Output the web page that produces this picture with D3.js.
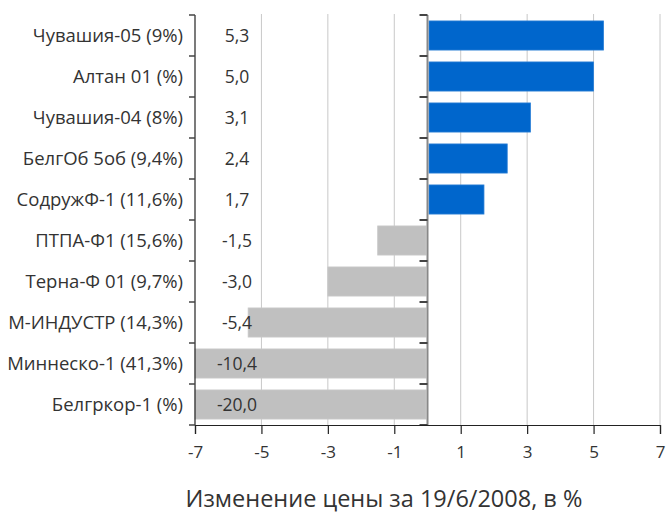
<!DOCTYPE html>
<html>
<head>
<meta charset="utf-8">
<script src="https://cdn.jsdelivr.net/npm/d3@7"></script>
<style>
  body { margin: 0; background: #fff; }
  text { font-family: "Open Sans", sans-serif; fill: #333; }
</style>
</head>
<body>
<script>
// данные
var categories = ["Чувашия-05 (9%)", "Алтан 01 (%)", "Чувашия-04 (8%)", "БелгОб 5об (9,4%)",
  "СодружФ-1 (11,6%)", "ПТПА-Ф1 (15,6%)", "Терна-Ф 01 (9,7%)", "М-ИНДУСТР (14,3%)",
  "Миннеско-1 (41,3%)", "Белгркор-1 (%)"];
var values = [5.3, 5.0, 3.1, 2.4, 1.7, -1.5, -3.0, -5.4, -10.4, -20.0];
var xTicks = [-7, -5, -3, -1, 1, 3, 5, 7];
var axisTitle = "Изменение цены за 19/6/2008, в %";

var width = 667, height = 515;
var margin = {top: 15, right: 7, bottom: 90, left: 195};
var chartWidth = width - margin.left - margin.right;
var chartHeight = height - margin.top - margin.bottom;

var svg = d3.select("body").append("svg").attr("width", width).attr("height", height);
var g = svg.append("g").attr("transform", "translate(" + margin.left + "," + margin.top + ")");

var x = d3.scaleLinear().domain([-7, 7]).range([0, chartWidth]).clamp(true);
var y = d3.scaleBand().domain(categories).range([0, chartHeight]).paddingInner(0.29).paddingOuter(0.145);
var step = y.step();

// сетка
g.selectAll(".grid").data(xTicks.slice(1)).enter().append("line")
  .attr("x1", d => x(d)).attr("x2", d => x(d))
  .attr("y1", -1).attr("y2", chartHeight)
  .attr("stroke", "#c8c8c8").attr("stroke-width", 1);

// столбцы
g.selectAll(".bar").data(values).enter().append("rect")
  .attr("x", d => d >= 0 ? x(0) + 1.5 : x(d))
  .attr("width", d => d >= 0 ? x(d) - x(0) - 1.5 : x(0) - x(d) - 1.5)
  .attr("y", (d, i) => y(categories[i]))
  .attr("height", y.bandwidth())
  .attr("fill", d => d >= 0 ? "#0066cc" : "#c0c0c0")
  .attr("stroke", d => d >= 0 ? "#2a7fd6" : "#c8c8c8")
  .attr("stroke-width", 0.8);

// нулевая линия
g.append("line").attr("x1", x(0)).attr("x2", x(0)).attr("y1", 0).attr("y2", chartHeight)
  .attr("stroke", "#888").attr("stroke-width", 2);
var bounds = categories.map(c => y(c) - y.paddingInner() * step / 2).concat([chartHeight]);
bounds[0] = 0;
g.selectAll(".ztick").data(bounds).enter().append("line")
  .attr("x1", x(0) - 8).attr("x2", x(0))
  .attr("y1", d => d).attr("y2", d => d)
  .attr("stroke", "#444").attr("stroke-width", 2);

// значения
g.selectAll(".val").data(values).enter().append("text")
  .attr("x", 42)
  .attr("y", (d, i) => y(categories[i]) + y.bandwidth() / 2)
  .attr("dy", "0.36em")
  .attr("text-anchor", "middle")
  .style("font-size", "17.5px")
  .text(d => d3.format(".1f")(d).replace(".", ",").replace("−", "-"));

// левая ось
g.append("line").attr("x1", 0).attr("x2", 0).attr("y1", 0).attr("y2", chartHeight)
  .attr("stroke", "#222").attr("stroke-width", 1.2);
g.selectAll(".ltick").data(bounds).enter().append("line")
  .attr("x1", -6).attr("x2", 0)
  .attr("y1", d => d).attr("y2", d => d)
  .attr("stroke", "#444").attr("stroke-width", 1.5);
g.selectAll(".cat").data(categories).enter().append("text")
  .attr("x", -12)
  .attr("y", d => y(d) + y.bandwidth() / 2)
  .attr("dy", "0.36em")
  .attr("text-anchor", "end")
  .style("font-size", "18.5px")
  .text(d => d);

// нижняя ось
var xAxis = d3.axisBottom(x).tickValues(xTicks).tickSize(9).tickPadding(12)
  .tickFormat(d => String(d));
var ax = g.append("g").attr("transform", "translate(0," + chartHeight + ")").call(xAxis);
ax.select(".domain").attr("stroke", "#222").attr("stroke-width", 1.2);
ax.selectAll(".tick line").attr("stroke", "#222").attr("stroke-width", 1.2);
ax.selectAll(".tick text").style("font-size", "17px").style("font-family", "Open Sans, sans-serif").attr("fill", "#333");

svg.append("text")
  .attr("x", 384).attr("y", 507)
  .attr("text-anchor", "middle")
  .style("font-size", "23.5px")
  .text(axisTitle);
</script>
</body>
</html>
